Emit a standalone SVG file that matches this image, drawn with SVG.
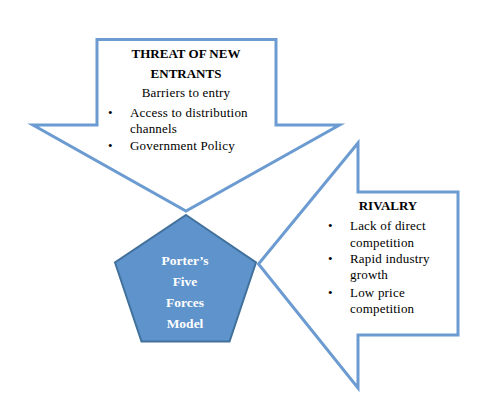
<svg xmlns="http://www.w3.org/2000/svg" width="493" height="414" viewBox="0 0 493 414">
<style>
.arrow{fill:#ffffff;stroke:#6b9bd1;stroke-width:3;stroke-linejoin:miter}
.t{font-family:"Liberation Serif","Times New Roman",serif;font-size:13px;letter-spacing:0.2px;fill:#000}
.b{font-weight:bold;letter-spacing:0}
.c{text-anchor:middle}
.w{font-family:"Liberation Serif","Times New Roman",serif;font-size:13.5px;font-weight:bold;fill:#ffffff;text-anchor:middle}
</style>
<rect width="493" height="414" fill="#ffffff"/>
<g id="connectors"/>
<g id="threat-new-entrants">
<polygon class="arrow" points="97,39.5 276,39.5 276,125 339.5,125 186,211 33,125 97,125"/>
<text class="t b c" x="186" y="58">THREAT OF NEW</text>
<text class="t b c" x="186" y="78">ENTRANTS</text>
<text class="t c" x="186" y="97">Barriers to entry</text>
<text class="t" x="108" y="117">•</text>
<text class="t" x="130" y="117">Access to distribution</text>
<text class="t" x="130" y="133">channels</text>
<text class="t" x="108" y="150">•</text>
<text class="t" x="130" y="150">Government Policy</text>
</g>
<g id="rivalry">
<polygon class="arrow" points="358,143 358,192 458,192 458,335 358,335 358,388 258.5,264"/>
<text class="t b c" x="388" y="210">RIVALRY</text>
<text class="t" x="328" y="230">•</text>
<text class="t" x="350" y="230">Lack of direct</text>
<text class="t" x="350" y="247">competition</text>
<text class="t" x="328" y="263">•</text>
<text class="t" x="350" y="263">Rapid industry</text>
<text class="t" x="350" y="279">growth</text>
<text class="t" x="328" y="297">•</text>
<text class="t" x="350" y="297">Low price</text>
<text class="t" x="350" y="313">competition</text>
</g>
<g id="porters-five-forces">
<polygon points="186,215 256,262.5 229.5,341.5 141.5,341.5 115,262.5" fill="#5f93cb" stroke="#41719c" stroke-width="2"/>
<text class="w" x="185" y="265">Porter’s</text>
<text class="w" x="185" y="286">Five</text>
<text class="w" x="185" y="307">Forces</text>
<text class="w" x="185" y="328">Model</text>
</g>
</svg>
